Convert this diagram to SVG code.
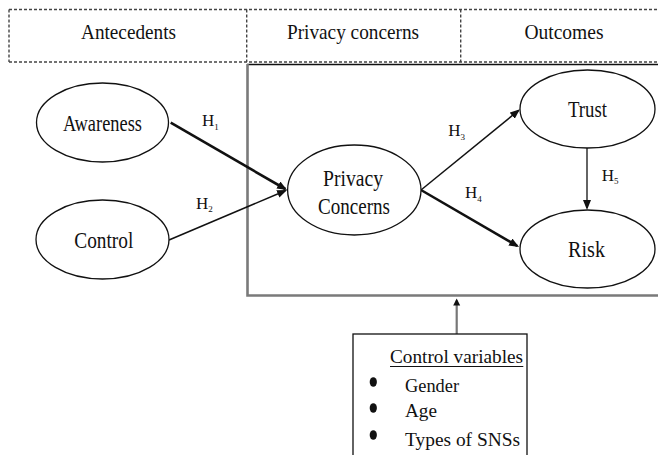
<svg xmlns="http://www.w3.org/2000/svg" width="658" height="455" viewBox="0 0 658 455">
  <style>
    text { fill: #111; }
    .node ellipse { fill: #fff; stroke: #111; stroke-width: 1.3; }
    .lbl { font-size: 23px; }
    .hdr { font-size: 22px; }
    .cv { font-size: 19px; }
    .h { font-size: 17px; }
    .sub { font-size: 9px; }
    .dash { fill: none; stroke: #444; stroke-width: 1.4; stroke-dasharray: 3 2; }
    .frame { fill: none; stroke: #7a7a7a; stroke-width: 2.6; }
    .edge { stroke: #111; fill: none; }
  </style>
  <defs>
    <marker id="arrow" markerUnits="userSpaceOnUse" markerWidth="11" markerHeight="9" refX="8" refY="4" orient="auto">
      <path d="M0,0 L10,4 L0,8 z" fill="#111"/>
    </marker>
    <marker id="arrow-small" markerUnits="userSpaceOnUse" markerWidth="8" markerHeight="8" refX="5" refY="3.5" orient="auto">
      <path d="M0,0 L7,3.5 L0,7 z" fill="#111"/>
    </marker>
  </defs>

  <rect width="658" height="455" fill="#fff"/>

  <!-- header band -->
  <g id="header" font-family="Liberation Serif, serif">
    <path class="dash" d="M9,9.5 H658 M9,9.5 V62 M246.7,9.5 V62 M460.7,9.5 V62"/>
    <path class="dash" d="M9,62 H658" stroke="#333"/>
    <text class="hdr" x="128.5" y="39" text-anchor="middle" textLength="95" lengthAdjust="spacingAndGlyphs">Antecedents</text>
    <text class="hdr" x="353" y="39" text-anchor="middle" textLength="132" lengthAdjust="spacingAndGlyphs">Privacy concerns</text>
    <text class="hdr" x="564" y="39" text-anchor="middle" textLength="79" lengthAdjust="spacingAndGlyphs">Outcomes</text>
  </g>

  <!-- model frame -->
  <g id="frame">
    <line x1="247" y1="64.5" x2="658" y2="64.5" stroke="#111" stroke-width="1.3"/>
    <path class="frame" d="M247.5,64 V295.5 H658"/>
  </g>

  <!-- connectors -->
  <g id="connectors" font-family="Liberation Serif, serif">
    <line class="edge" x1="170.7" y1="122.7" x2="285.3" y2="189" stroke-width="2.6" marker-end="url(#arrow)"/>
    <line class="edge" x1="169" y1="240" x2="285.2" y2="190.8" stroke-width="1.5" marker-end="url(#arrow)"/>
    <line class="edge" x1="421" y1="190" x2="518.4" y2="110.6" stroke-width="1.5" marker-end="url(#arrow)"/>
    <line class="edge" x1="421" y1="190" x2="517.3" y2="246" stroke-width="2.6" marker-end="url(#arrow)"/>
    <line class="edge" x1="587" y1="148" x2="587" y2="208" stroke-width="1.3" marker-end="url(#arrow)"/>
    <line x1="456.7" y1="334" x2="456.7" y2="300.5" stroke="#777" stroke-width="2.2" marker-end="url(#arrow-small)"/>

    <text class="h" x="202" y="126">H<tspan class="sub" dy="3.5">1</tspan></text>
    <text class="h" x="196" y="208.5">H<tspan class="sub" dy="3.5">2</tspan></text>
    <text class="h" x="448.3" y="136">H<tspan class="sub" dy="3.5">3</tspan></text>
    <text class="h" x="465" y="198.3">H<tspan class="sub" dy="3.5">4</tspan></text>
    <text class="h" x="601.7" y="180.7">H<tspan class="sub" dy="3.5">5</tspan></text>
  </g>

  <!-- nodes -->
  <g id="awareness" class="node" font-family="Liberation Serif, serif">
    <ellipse cx="102.5" cy="122.5" rx="66" ry="39.5"/>
    <text class="lbl" x="102.5" y="130.5" text-anchor="middle" textLength="79" lengthAdjust="spacingAndGlyphs">Awareness</text>
  </g>
  <g id="control" class="node" font-family="Liberation Serif, serif">
    <ellipse cx="102.5" cy="239.5" rx="66.5" ry="39.5"/>
    <text class="lbl" x="103.8" y="248" text-anchor="middle" textLength="59" lengthAdjust="spacingAndGlyphs">Control</text>
  </g>
  <g id="privacy-concerns" class="node" font-family="Liberation Serif, serif">
    <ellipse cx="354.3" cy="190" rx="66.7" ry="45"/>
    <text class="lbl" x="353" y="186" text-anchor="middle" textLength="60" lengthAdjust="spacingAndGlyphs">Privacy</text>
    <text class="lbl" x="354" y="213.5" text-anchor="middle" textLength="72" lengthAdjust="spacingAndGlyphs">Concerns</text>
  </g>
  <g id="trust" class="node" font-family="Liberation Serif, serif">
    <ellipse cx="587.5" cy="109" rx="67.5" ry="39"/>
    <text class="lbl" x="587.5" y="117" text-anchor="middle" textLength="39" lengthAdjust="spacingAndGlyphs">Trust</text>
  </g>
  <g id="risk" class="node" font-family="Liberation Serif, serif">
    <ellipse cx="587.5" cy="249" rx="67.5" ry="39"/>
    <text class="lbl" x="586.5" y="256.5" text-anchor="middle" textLength="37" lengthAdjust="spacingAndGlyphs">Risk</text>
  </g>

  <!-- control variables box -->
  <g id="control-variables" font-family="Liberation Serif, serif">
    <rect x="353" y="334" width="174" height="130" fill="#fff" stroke="#111" stroke-width="1.3"/>
    <text class="cv" x="390" y="362.5" textLength="133" lengthAdjust="spacingAndGlyphs">Control variables</text>
    <line x1="390" y1="366.5" x2="523.3" y2="366.5" stroke="#111" stroke-width="1"/>
    <ellipse cx="373.3" cy="382" rx="3.6" ry="4.8" fill="#111"/>
    <ellipse cx="373.3" cy="408" rx="3.6" ry="4.8" fill="#111"/>
    <ellipse cx="373.3" cy="435" rx="3.6" ry="4.8" fill="#111"/>
    <text class="cv" x="405" y="391.5" textLength="54" lengthAdjust="spacingAndGlyphs">Gender</text>
    <text class="cv" x="405" y="416.5" textLength="32" lengthAdjust="spacingAndGlyphs">Age</text>
    <text class="cv" x="405" y="445.5" textLength="115" lengthAdjust="spacingAndGlyphs">Types of SNSs</text>
  </g>
</svg>
